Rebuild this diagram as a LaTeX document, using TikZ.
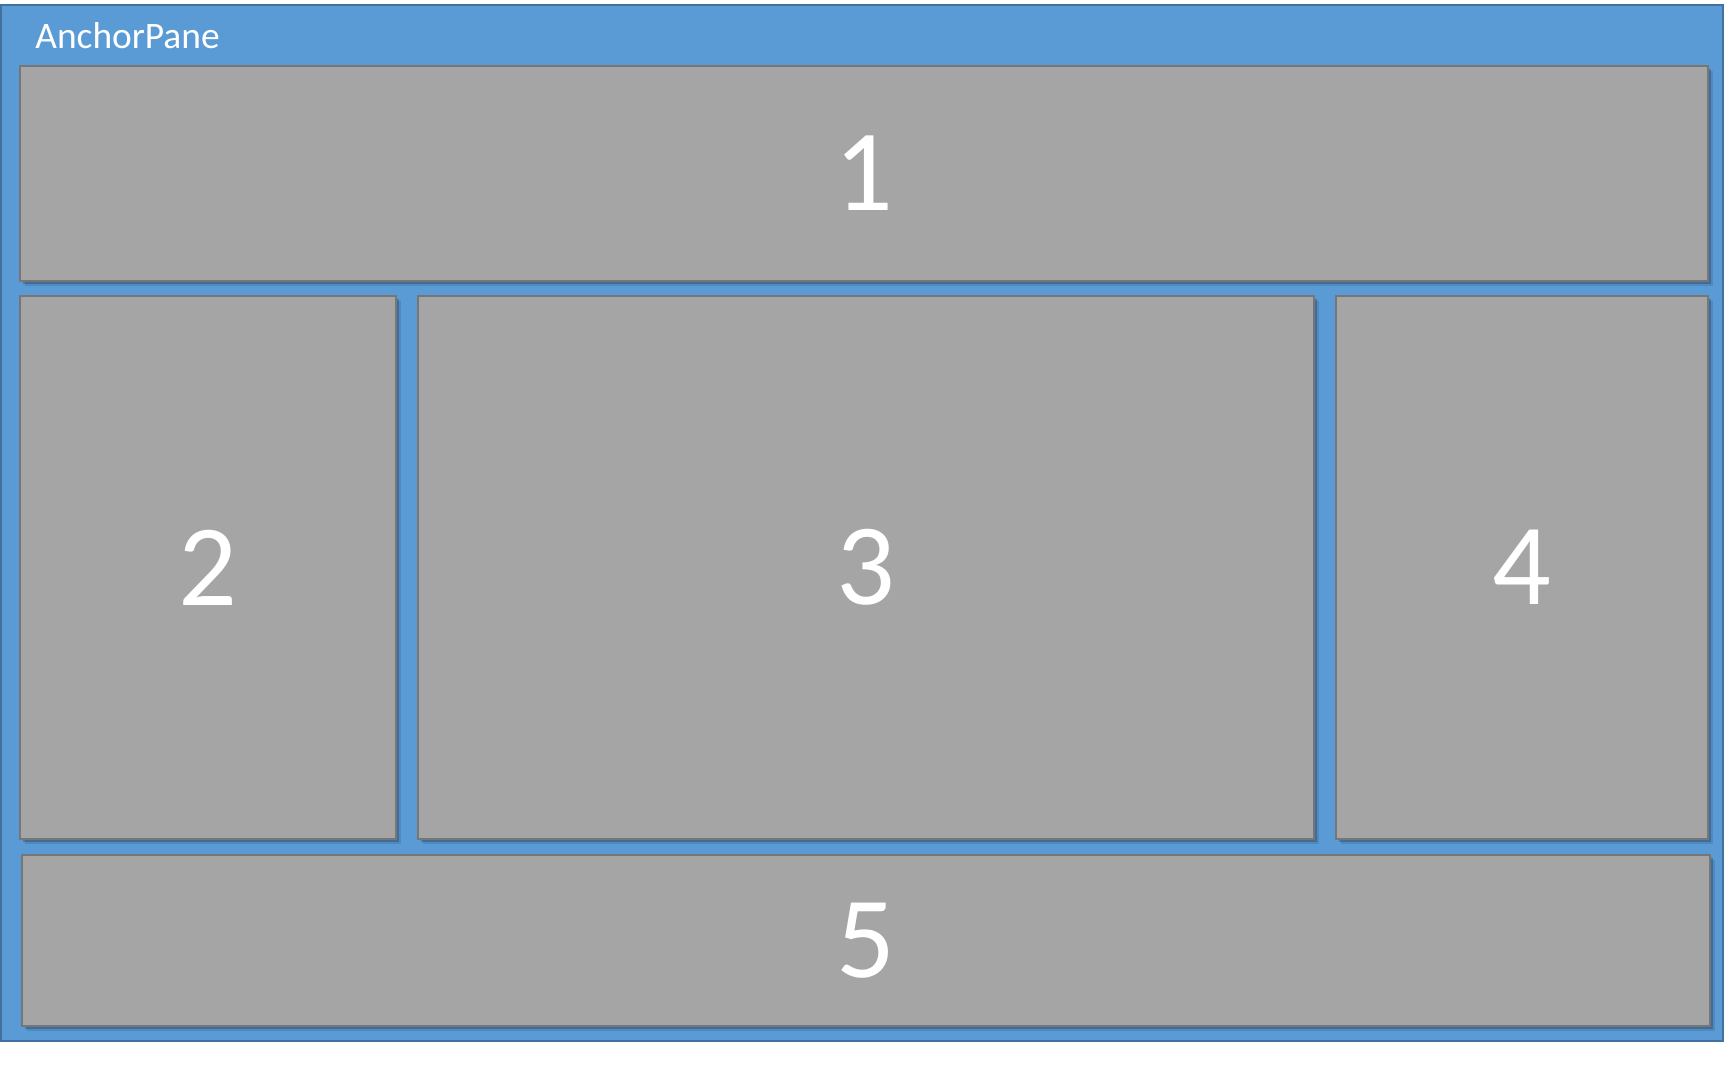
\documentclass[tikz,border=0pt]{standalone}
\usepackage{fontspec}
\setmainfont{Carlito}
\usetikzlibrary{shadows}
\definecolor{paneblue}{HTML}{5B9BD5}
\definecolor{paneedge}{HTML}{41719C}
\definecolor{boxgray}{HTML}{A5A5A5}
\definecolor{boxedge}{HTML}{767676}

\begin{document}
\begin{tikzpicture}[x=0.5pt, y=-0.5pt,
    pane/.style={draw=boxedge, line width=1pt, fill=boxgray, text=white,
        font=\fontsize{58}{60}\selectfont, inner sep=0pt,
        drop shadow={shadow xshift=2.5pt, shadow yshift=-2.5pt, opacity=0.2, fill=paneedge!60!black},
        drop shadow={shadow xshift=1.5pt, shadow yshift=-1.5pt, opacity=0.4, fill=paneedge!60!black}}]
    \useasboundingbox (0,0) rectangle (1724,1089);
    % the AnchorPane itself
    \draw[fill=paneblue, draw=paneedge, line width=1pt] (1,5) rectangle (1723,1041);
    \node[anchor=base west, text=white, font=\fontsize{18.7}{22}\selectfont, inner sep=0pt] (title) at (35,48) {AnchorPane};
    % children: name/left/top/right/bottom
    \foreach \n/\xa/\ya/\xb/\yb in {1/20/66/1708/281, 2/20/296/396/839, 3/418/296/1314/839, 4/1336/296/1708/839, 5/22/855/1710/1026} {
        \node[pane, minimum width={(\xb-\xa)*0.5pt}, minimum height={(\yb-\ya)*0.5pt}] (box\n) at ({(\xa+\xb)/2},{(\ya+\yb)/2}) {\n};
    }
\end{tikzpicture}
\end{document}
